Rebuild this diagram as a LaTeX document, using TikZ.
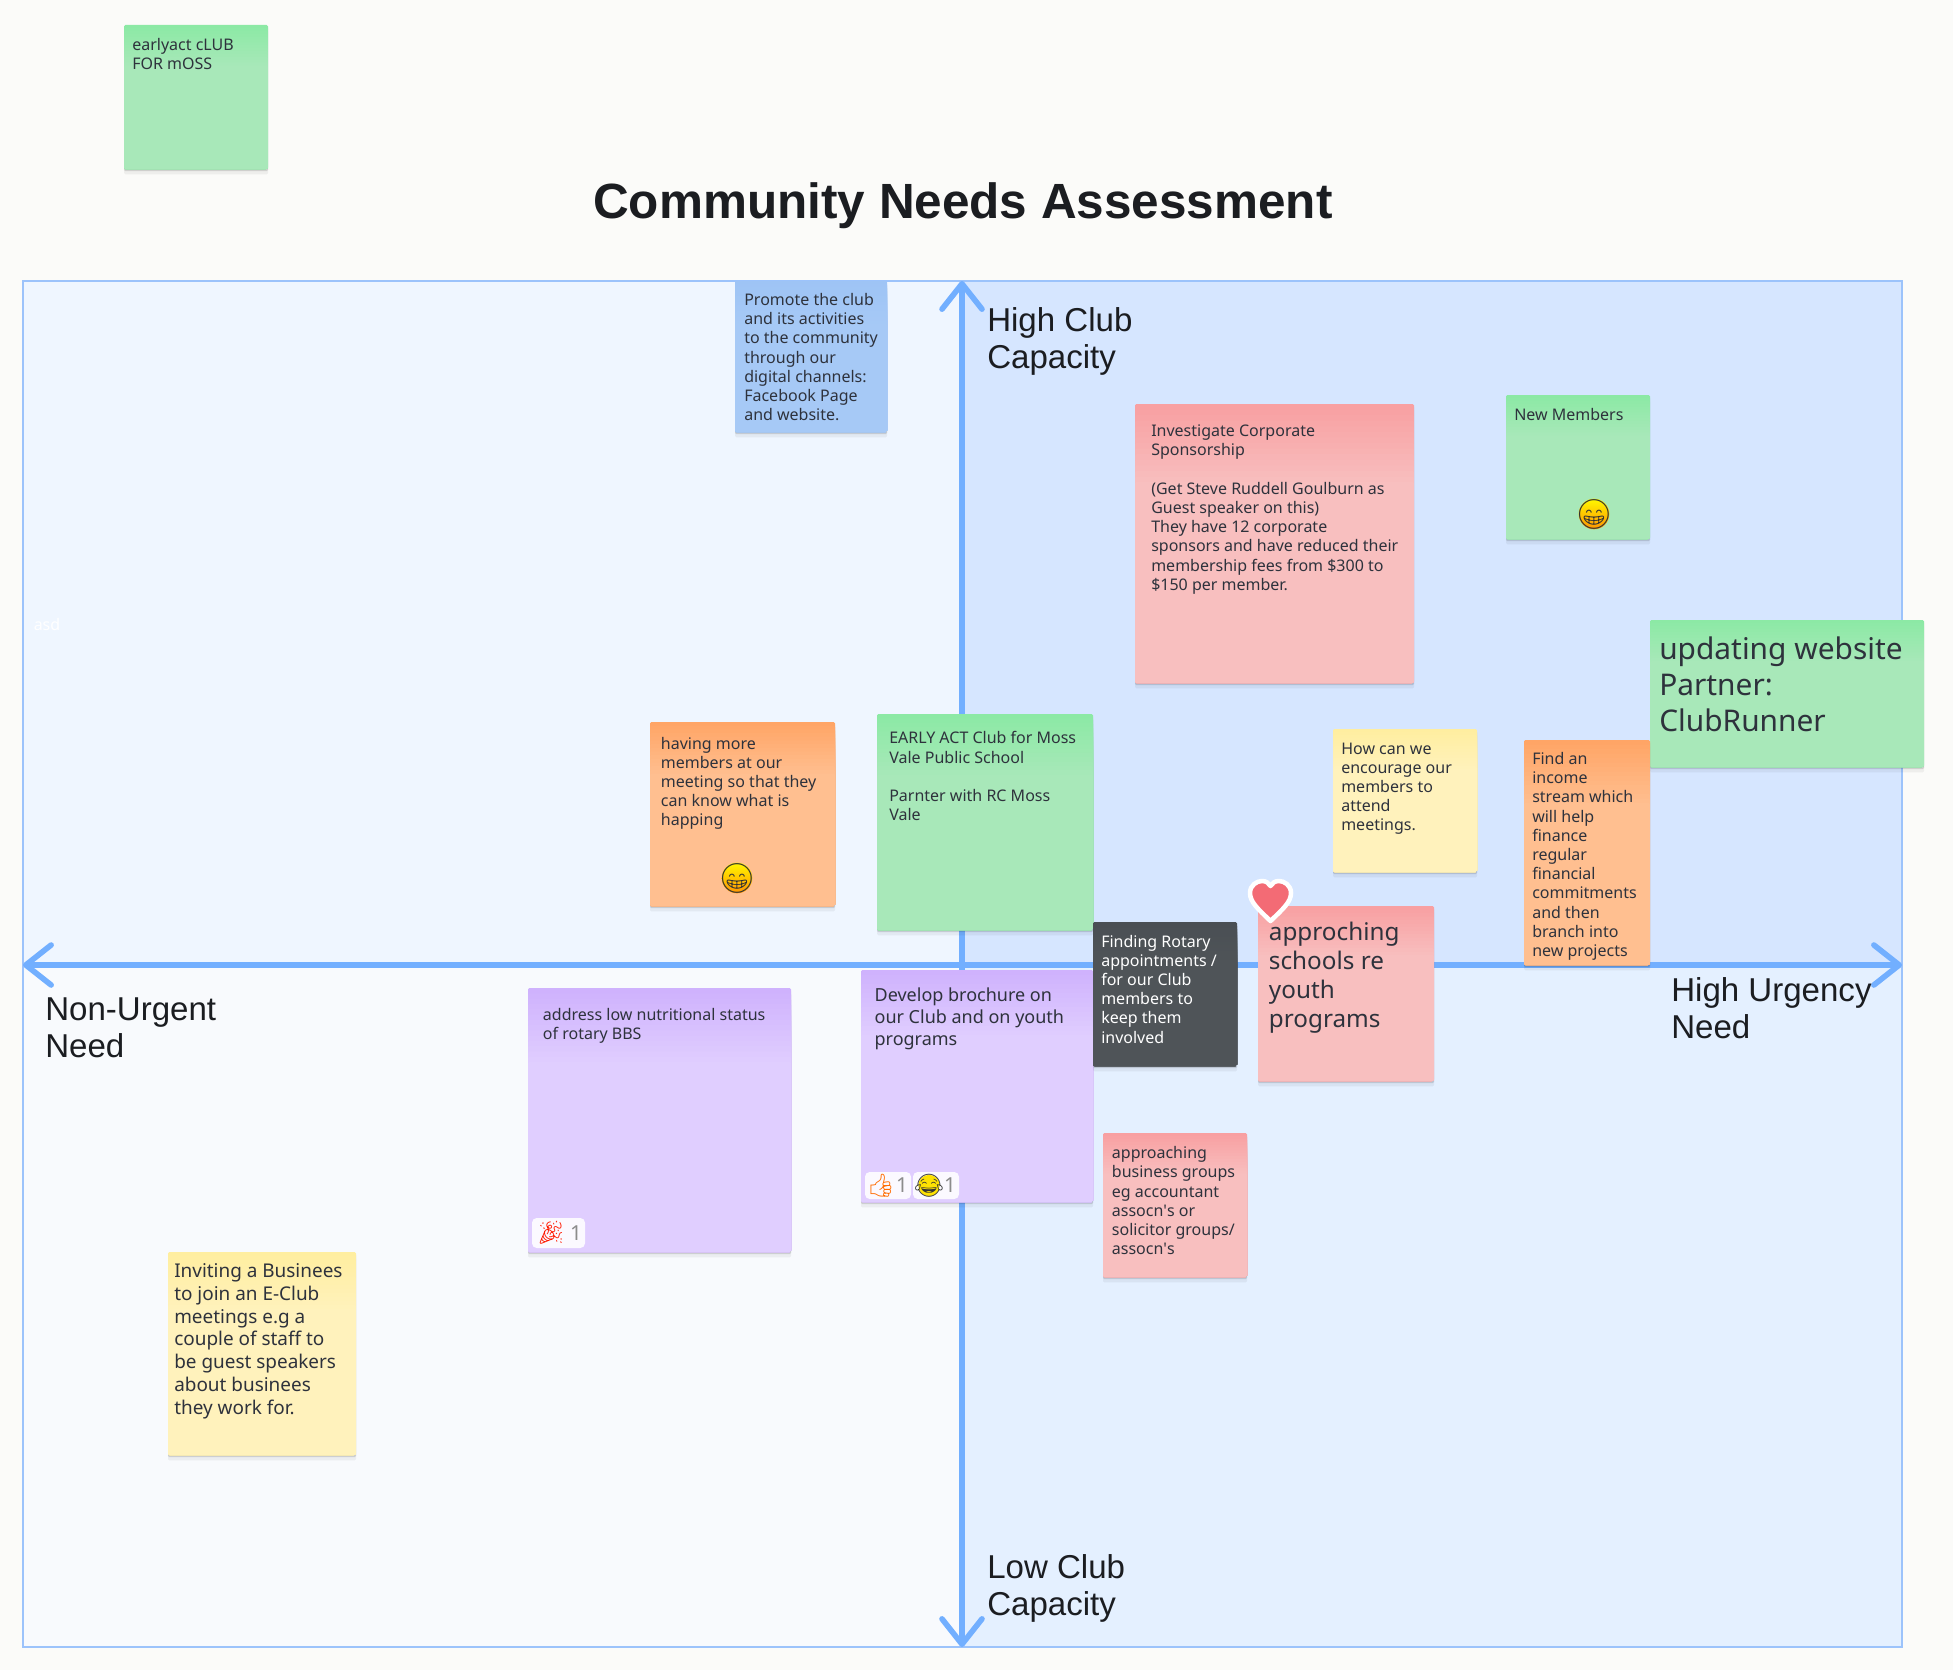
\documentclass[tikz,border=0pt]{standalone}
\usepackage{fontspec}
\setmainfont{Noto Sans}
\newfontfamily\emojifont{Noto Emoji}
\newfontfamily\labelfont{Liberation Sans}
\usetikzlibrary{arrows.meta, positioning, shadows, calc}

\definecolor{pagebg}{HTML}{FBFBF9}
\definecolor{axisblue}{HTML}{72AFFF}
\definecolor{frameblue}{HTML}{9CC3FB}
\definecolor{inkdark}{HTML}{2E323C}
\definecolor{labelink}{HTML}{1B1D21}
\definecolor{heartred}{HTML}{F36B75}
\definecolor{quadtl}{HTML}{EFF6FF}
\definecolor{quadtr}{HTML}{D6E6FF}
\definecolor{quadbl}{HTML}{F8FAFD}
\definecolor{quadbr}{HTML}{E4F0FF}

% sticky note colours: strong band on top, flat below
\definecolor{greentop}{HTML}{8CE9A5}
\definecolor{greenflat}{HTML}{A8E8B9}
\definecolor{orangetop}{HTML}{FFA566}
\definecolor{orangeflat}{HTML}{FFBF90}
\definecolor{pinktop}{HTML}{F8A0A2}
\definecolor{pinkflat}{HTML}{F8BFBF}
\definecolor{purpletop}{HTML}{CFB2FD}
\definecolor{purpleflat}{HTML}{E0CEFF}
\definecolor{yellowtop}{HTML}{FFEEA0}
\definecolor{yellowflat}{HTML}{FFF2BC}
\definecolor{bluetop}{HTML}{9EC4F5}
\definecolor{blueflat}{HTML}{A6C9F6}
\definecolor{darktop}{HTML}{4A4F54}
\definecolor{darkflat}{HTML}{4F5458}

\begin{document}
\begin{tikzpicture}[
    x=0.75pt, y=-0.75pt,
    note/.style={
        rectangle, anchor=north west, inner sep=0pt, outer sep=0pt,
        rounded corners=1pt, fill=#1top,
        path picture={
            \foreach \slice in {1,...,14}{
                \pgfmathsetmacro{\frac}{\slice*0.02}
                \pgfmathsetmacro{\mixpct}{\slice*100/14}
                \fill[#1flat!\mixpct!#1top]
                  ($(path picture bounding box.north west)!\frac!(path picture bounding box.south west)$)
                  rectangle (path picture bounding box.south east);
            }
        },
        drop shadow={shadow xshift=0pt, shadow yshift=-4pt, opacity=.05, fill=black},
        drop shadow={shadow xshift=0pt, shadow yshift=-1.6pt, opacity=.13, fill=black}
    },
    notesize/.style 2 args={minimum width=#1*0.75pt, minimum height=#2*0.75pt},
    notetext/.style={
        align=left, inner sep=0pt, text=inkdark,
        font=\fontsize{12}{14.4}\selectfont
    },
    midtext/.style={notetext, font=\fontsize{13.5}{16.5}\selectfont},
    widetext/.style={notetext, font=\fontsize{14.2}{17.1}\selectfont},
    bigtext/.style={notetext, font=\fontsize{18.2}{21.75}\selectfont},
    hugetext/.style={notetext, font=\fontsize{22.4}{27}\selectfont},
    quadlabel/.style={
        anchor=north west, align=left, inner sep=0pt, text=labelink,
        font=\labelfont\fontsize{24.8}{27.75}\selectfont
    },
    axisline/.style={
        draw=axisblue, line width=4.2pt,
        {Straight Barb[length=19pt, width=30pt, round]}-{Straight Barb[length=19pt, width=30pt, round]}
    },
    grinface/.style={
        circle, inner sep=0pt, minimum size=23pt,
        top color=yellow!95!orange, bottom color=orange!85!yellow
    },
    emojiglyph/.style={inner sep=0pt, text=black!80, font=\emojifont\fontsize{22}{22}\selectfont},
    chip/.style={
        rectangle, anchor=north west, fill=white!70!purpleflat!40!white, rounded corners=3.5pt,
        inner sep=0pt, outer sep=0pt
    },
    chipcount/.style={inner sep=0pt, text=black!45, font=\fontsize{15.5}{15.5}\selectfont},
    chipglyph/.style={inner sep=0pt, font=\emojifont\fontsize{17}{17}\selectfont},
    heartmark/.style={
        fill=heartred, draw=white, line width=3.4pt, line join=round,
        drop shadow={shadow xshift=0pt, shadow yshift=-1pt, opacity=.12, fill=black}
    }
]

% --- page, title ---
\path[use as bounding box, fill=pagebg] (0,0) rectangle (1953,1670);
\node[inner sep=0pt, text=labelink, font=\labelfont\bfseries\fontsize{37.1}{44}\selectfont] (title) at (963,206) {Community Needs Assessment};

% --- quadrants ---
\coordinate (nw) at (23,281);
\coordinate (se) at (1902,1647);
\coordinate (centre) at (962,965);
\fill[quadtl] (nw) rectangle (centre);
\fill[quadtr] (centre |- nw) rectangle (centre -| se);
\fill[quadbl] (nw |- centre) rectangle (centre |- se);
\fill[quadbr] (centre) rectangle (se);
\draw[frameblue, line width=.8pt] (nw) rectangle (se);

% --- axes ---
\coordinate (west) at (nw |- centre);
\coordinate (east) at (se |- centre);
\coordinate (north) at (centre |- nw);
\coordinate (south) at (centre |- se);
\draw[axisline] (west) -- (east);
\draw[axisline] (north) -- (south);

\node[quadlabel] (highclub) at (987,307) {High Club\\Capacity};
\node[quadlabel] (lowclub) at (987,1554) {Low Club\\Capacity};
\node[quadlabel] (nonurgent) at (45,997) {Non-Urgent\\Need};
\node[quadlabel] (highurgency) at (1671,977) {High Urgency\\Need};
\node[inner sep=0pt, text=white, font=\fontsize{12}{14}\selectfont] (asd) at (47,624) {asd};

% --- notes, back to front ---
\node[note=green, notesize={144}{144}] (earlyact) at (124,25) {};
\node[notetext, below right=10pt and 6pt of earlyact.north west] (earlyacttext) {earlyact cLUB\\FOR mOSS};

\node[note=blue, notesize={152}{151}] (promote) at (735,281) {};
\node[notetext, below right=9pt and 6.75pt of promote.north west] (promotetext) {Promote the club\\and its activities\\to the community\\through our\\digital channels:\\Facebook Page\\and website.};

\node[note=pink, notesize={279}{279}] (sponsor) at (1135,404) {};
\node[notetext, below right=15.5pt and 12pt of sponsor.north west] (sponsortext) {Investigate Corporate\\Sponsorship\\[14.4pt](Get Steve Ruddell Goulburn as\\Guest speaker on this)\\They have 12 corporate\\sponsors and have reduced their\\membership fees from \$300 to\\\$150 per member.};

\node[note=green, notesize={144}{144}] (newmembers) at (1506,395) {};
\node[notetext, below right=10pt and 6pt of newmembers.north west] (newmemberstext) {New Members};

\node[note=green, notesize={274}{147}] (website) at (1650,620) {};
\node[hugetext, below right=12.5pt and 6.75pt of website.north west] (websitetext) {updating website\\Partner:\\ClubRunner};

\node[note=yellow, notesize={144}{143}] (attend) at (1333,729) {};
\node[notetext, below right=10pt and 6pt of attend.north west] (attendtext) {How can we\\encourage our\\members to\\attend\\meetings.};

\node[note=orange, notesize={126}{225}] (income) at (1524,740) {};
\node[notetext, below right=9pt and 6pt of income.north west] (incometext) {Find an\\income\\stream which\\will help\\finance\\regular\\financial\\commitments\\and then\\branch into\\new projects};

\node[note=orange, notesize={185}{184}] (having) at (650,722) {};
\node[notetext, below right=11pt and 8pt of having.north west] (havingtext) {having more\\members at our\\meeting so that they\\can know what is\\happing};

\node[note=green, notesize={216}{216}] (moss) at (877,714) {};
\node[notetext, below right=13pt and 9pt of moss.north west] (mosstext) {EARLY ACT Club for Moss\\Vale Public School\\[14.4pt]Parnter with RC Moss\\Vale};

\node[note=purple, notesize={263}{264}] (nutrition) at (528,988) {};
\node[notetext, below right=15pt and 11pt of nutrition.north west] (nutritiontext) {address low nutritional status\\of rotary BBS};

\node[note=purple, notesize={232}{232}] (brochure) at (861,970) {};
\node[midtext, below right=13.5pt and 10pt of brochure.north west] (brochuretext) {Develop brochure on\\our Club and on youth\\programs};

\node[note=dark, notesize={144}{144}] (rotary) at (1093,922) {};
\node[notetext, text=white, below right=9.5pt and 6pt of rotary.north west] (rotarytext) {Finding Rotary\\appointments /\\for our Club\\members to\\keep them\\involved};

\node[note=pink, notesize={176}{175}] (schools) at (1258,906) {};
\node[bigtext, below right=12pt and 8pt of schools.north west] (schoolstext) {approching\\schools re\\youth\\programs};

\node[note=pink, notesize={144}{144}] (groups) at (1103,1133) {};
\node[notetext, below right=10pt and 6.5pt of groups.north west] (groupstext) {approaching\\business groups\\eg accountant\\assocn\textquotesingle s or\\solicitor groups/\\assocn\textquotesingle s};

\node[note=yellow, notesize={188}{203}] (inviting) at (168,1252) {};
\node[widetext, below right=8.5pt and 4.5pt of inviting.north west] (invitingtext) {Inviting a Businees\\to join an E-Club\\meetings e.g a\\couple of staff to\\be guest speakers\\about businees\\they work for.};

% --- stickers ---
\node[grinface] (grinmembers) at (1594,514) {};
\node[emojiglyph] at (grinmembers) {😁};
\node[grinface] (grinhaving) at (737,878) {};
\node[emojiglyph] at (grinhaving) {😁};

\path[heartmark] (1270.5,921) .. controls (1258,909) and (1250,902) .. (1250,893)
  .. controls (1250,885) and (1257,881) .. (1262,881)
  .. controls (1266,881) and (1269,883) .. (1270.5,886)
  .. controls (1272,883) and (1275,881) .. (1279,881)
  .. controls (1284,881) and (1291,885) .. (1291,893)
  .. controls (1291,902) and (1283,909) .. (1270.5,921) -- cycle;

% --- reaction chips ---
\node[chip, notesize={46}{27}] (thumbchip) at (865,1172) {};
\node[chipglyph, text=orange!85!red] (thumbglyph) at ($(thumbchip.west)+(16,0)$) {👍};
\node[chipcount] (thumbcount) at ($(thumbchip.east)+(-9,0)$) {1};

\node[chip, notesize={46}{27}] (laughchip) at (913,1172) {};
\node[circle, inner sep=0pt, minimum size=16pt, fill=yellow!85!orange] (laughface) at ($(laughchip.west)+(16,0)$) {};
\node[chipglyph, text=black!80] (laughglyph) at (laughface) {😂};
\node[chipcount] (laughcount) at ($(laughchip.east)+(-9,0)$) {1};

\node[chip, notesize={53}{30}] (partychip) at (532,1218) {};
\node[chipglyph, text=red!80!orange] (partyglyph) at ($(partychip.west)+(19,0)$) {🎉};
\node[chipcount] (partycount) at ($(partychip.east)+(-9,0)$) {1};

\end{tikzpicture}
\end{document}
